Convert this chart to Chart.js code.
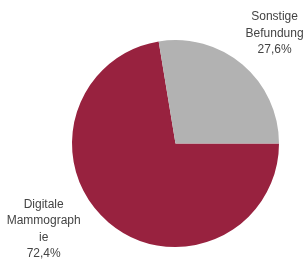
<!DOCTYPE html>
<html>
<head>
<meta charset="utf-8">
<script src="https://cdn.jsdelivr.net/npm/chart.js@4/dist/chart.umd.min.js"></script>
<style>
  html, body { margin: 0; padding: 0; background: #fff; }
  #wrap { width: 304px; height: 261px; position: relative; }
</style>
</head>
<body>
<div id="wrap"><canvas id="pieChart"></canvas></div>
<script>
// Data
const categories = ["Digitale Mammographie", "Sonstige Befundung"];
const values = [72.4, 27.6];
const labelLines = [
  ["Digitale", "Mammograph", "ie", "72,4%"],
  ["Sonstige", "Befundung", "27,6%"]
];
const colors = ["#98223f", "#b2b2b2"];

// where each label sits, relative to its slice (angle shift in rad, distance in radii)
const labelAnchor = [
  { shift: 0.29, dist: 1.52 },
  { shift: 0.03, dist: 1.43 }
];

// Label plugin: draws the multi-line text outside the slices
const outsideLabels = {
  id: "outsideLabels",
  afterDatasetsDraw(chart) {
    const ctx = chart.ctx;
    const meta = chart.getDatasetMeta(0);
    ctx.save();
    ctx.font = "12px 'Liberation Sans', Arial, sans-serif";
    ctx.fillStyle = "#444444";
    ctx.textAlign = "center";
    ctx.textBaseline = "middle";
    meta.data.forEach((arc, i) => {
      const p = arc.getProps(["x", "y", "startAngle", "endAngle", "outerRadius"], true);
      const mid = (p.startAngle + p.endAngle) / 2 + labelAnchor[i].shift;
      const cx = p.x + Math.cos(mid) * p.outerRadius * labelAnchor[i].dist;
      const cy = p.y + Math.sin(mid) * p.outerRadius * labelAnchor[i].dist;
      const lines = labelLines[i];
      const lh = 16.5;
      const top = cy - (lines.length - 1) * lh / 2;
      lines.forEach((t, j) => ctx.fillText(t, cx, top + j * lh));
    });
    ctx.restore();
  }
};

new Chart(document.getElementById("pieChart"), {
  type: "pie",
  data: {
    labels: categories,
    datasets: [{
      data: values,
      backgroundColor: colors,
      borderWidth: 0
    }]
  },
  options: {
    responsive: true,
    maintainAspectRatio: false,
    animation: false,
    rotation: 90,
    layout: { padding: { top: 40, bottom: 14, left: 72, right: 25 } },
    plugins: {
      legend: { display: false },
      tooltip: { enabled: false }
    }
  },
  plugins: [outsideLabels]
});
</script>
</body>
</html>
